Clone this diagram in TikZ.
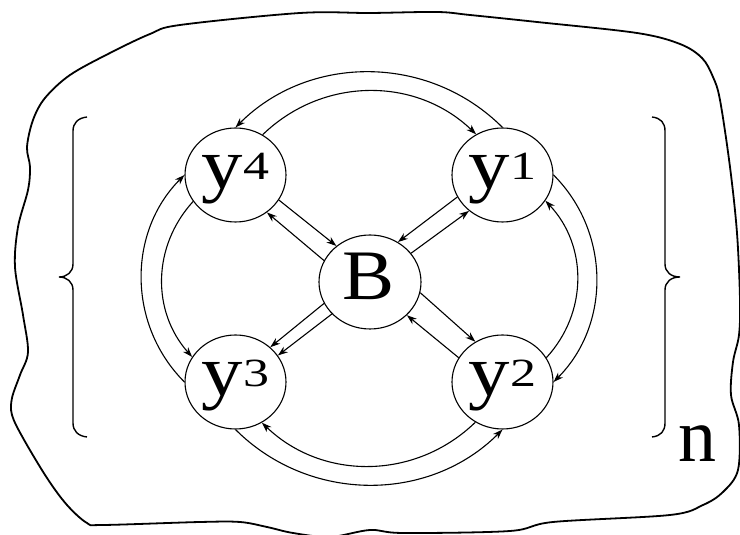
\documentclass[tikz,border=0pt]{standalone}
\usepackage{fontspec}
\setmainfont{Liberation Serif}
\usetikzlibrary{arrows.meta,shapes.geometric}
\newcommand\yvar[1]{\scalebox{1.15}[1]{\fontsize{72}{72}\selectfont y}\raisebox{9pt}{\scalebox{1.3}[1]{\fontsize{40}{40}\selectfont #1}}}
\begin{document}
\begin{tikzpicture}[x=1pt,y=1pt,
  vnode/.style={draw, ellipse, line width=1.1pt, minimum width=101pt, minimum height=94pt, inner sep=0pt},
  vlab/.style={anchor=base, inner sep=0pt},
  conn/.style={line width=1.1pt, -{Stealth[length=10pt,width=7pt]}},
  blob/.style={line width=1.8pt, line join=round},
  brc/.style={line width=1.4pt},
]
\useasboundingbox (0,0) rectangle (740,535);
% outer wavy boundary
\draw[blob] plot[smooth cycle, tension=0.55] coordinates {
(180,510) (300,522) (370,522) (437,523) (470,520) (537,513) (637,502) (680,491)
(702,477) (713,458) (720,435) (730,368) (737,302) (740,235) (739,200) (733,173)
(731,140) (739,110) (738,65) (723,43) (703,30) (670,20) (553,13) (510,4) (403,2)
(370,5) (330,-2) (293,2) (267,8) (240,13) (200,13) (103,10) (87,12) (67,30)
(47,57) (23,97) (12,120) (12,137) (20,160) (28,183) (23,220) (15,268) (18,308)
(28,345) (30,368) (27,388) (33,415) (45,437) (70,460) (110,482) (150,501)};
% braces
\draw[brc] (87,418) .. controls (78,417) and (73,412) .. (73,404) -- (73,271)
  .. controls (73,263) and (67,258) .. (59,258) .. controls (67,258) and (73,253) .. (73,245)
  -- (73,112) .. controls (73,104) and (78,99) .. (87,98);
\draw[brc] (652,418) .. controls (661,417) and (665,412) .. (665,404) -- (665,271)
  .. controls (665,263) and (671,258) .. (680,258) .. controls (671,258) and (665,253) .. (665,245)
  -- (665,112) .. controls (665,104) and (661,99) .. (652,98);
\node[anchor=base, inner sep=0pt] (n) at (697,73) {\fontsize{76}{76}\selectfont n};
% nodes
\node[vnode] (y4) at (235.5,360) {};
\node[vnode] (y1) at (502.5,360) {};
\node[vnode, minimum width=102pt] (B) at (370,253) {};
\node[vnode] (y3) at (235.5,153) {};
\node[vnode] (y2) at (502.5,153) {};
\node[vlab] (t4) at ([yshift=-14pt]y4.center) {\yvar{4}};
\node[vlab] (t1) at ([yshift=-14pt]y1.center) {\yvar{1}};
\node[vlab] (t3) at ([yshift=-14pt]y3.center) {\yvar{3}};
\node[vlab] (t2) at ([yshift=-14pt]y2.center) {\yvar{2}};
\node[vlab] (tB) at ([xshift=-1.5pt,yshift=-18pt]B.center) {\scalebox{1.1}[1]{\fontsize{71}{71}\selectfont B}};
% ring connectors
\draw[conn] (y1.90) to[bend right=45] (y4.90);
\draw[conn] (y4.56) to[bend left=44] (y1.123);
\draw[conn] (y3.180) to[bend left=45] (y4.180);
\draw[conn] (y4.212) to[bend right=42] (y3.150);
\draw[conn] (y1.0) to[bend left=45] (y2.0);
\draw[conn] (y2.29) to[bend right=43] (y1.329);
\draw[conn] (y2.236) to[bend left=44] (y3.303);
\draw[conn] (y3.270) to[bend right=45] (y2.270);
% spokes
\draw[conn] (y4.330) -- (B.133);
\draw[conn] (B.155) -- (y4.310);
\draw[conn] (y1.206) -- (B.55);
\draw[conn] (B.35) -- (y1.227);
\draw[conn] (B.205) -- (y3.45);
\draw[conn] (B.220) -- (y3.32);
\draw[conn] (B.348) -- (y2.124);
\draw[conn] (y2.151) -- (B.318);
\end{tikzpicture}
\end{document}
